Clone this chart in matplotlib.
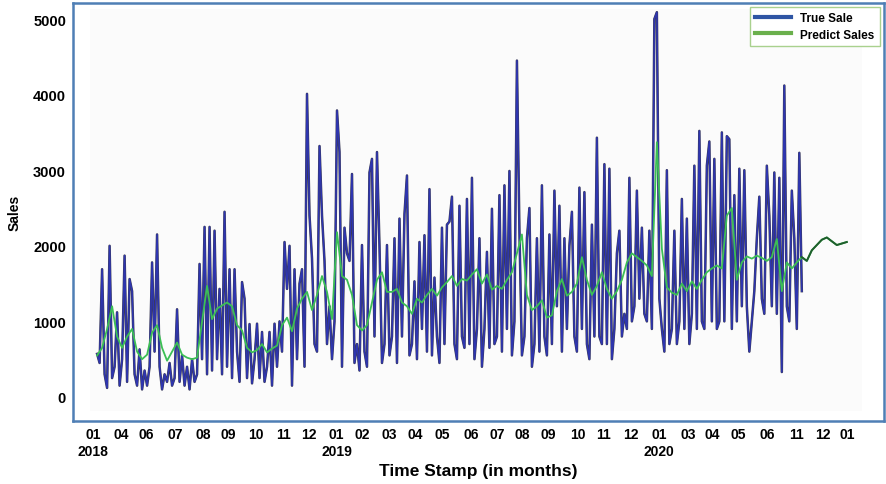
import numpy as np
import matplotlib.pyplot as plt
from matplotlib.patches import Rectangle

# True sales, one value every ~3.6 days
true_sales = [
    570, 450, 1690, 300, 120, 2000, 250, 400, 1120, 150,
    500, 1870, 200, 1560, 1400, 300, 150, 630, 100, 350,
    150, 400, 1780, 600, 2150, 400, 100, 300, 200, 450,
    150, 250, 1160, 200, 550, 150, 400, 100, 500, 200,
    300, 1760, 500, 2250, 300, 2250, 350, 2200, 500, 1430,
    300, 2450, 400, 1690, 250, 1690, 600, 200, 1520, 1300,
    250, 965, 180, 500, 970, 250, 860, 200, 400, 860,
    150, 970, 400, 1000, 600, 2050, 1430, 2000, 150, 1690,
    500, 1500, 1690, 400, 4010, 2400, 1830, 700, 600, 3320,
    2400, 1800, 700, 1200, 500, 1000, 3790, 3240, 400, 2240,
    1900, 1800, 2950, 450, 700, 350, 2010, 600, 400, 2970,
    3150, 800, 3240, 2000, 450, 700, 2010, 550, 800, 2100,
    450, 2360, 800, 2420, 2930, 550, 700, 1530, 500, 2050,
    900, 2140, 600, 2750, 550, 1580, 800, 450, 2240, 700,
    2280, 2320, 2650, 700, 500, 2530, 800, 650, 2620, 700,
    2900, 500, 900, 2100, 400, 900, 1920, 650, 2490, 700,
    800, 2670, 600, 2800, 900, 2990, 550, 1000, 4450, 2200,
    550, 800, 2100, 2500, 400, 700, 2100, 600, 2800, 800,
    550, 2150, 700, 2730, 1200, 2530, 600, 2100, 900, 2000,
    2450, 800, 600, 2770, 900, 2710, 700, 500, 2280, 800,
    3430, 800, 700, 3080, 700, 3020, 500, 900, 1900, 2200,
    800, 1100, 900, 2900, 1000, 1200, 2730, 1300, 2240, 1100,
    1000, 2200, 900, 5000, 5090, 1300, 900, 600, 3000, 700,
    900, 2200, 700, 1000, 2620, 900, 2360, 700, 1100, 3060,
    900, 3520, 1000, 900, 3060, 3380, 1000, 3150, 900, 1000,
    3500, 1000, 3450, 3410, 900, 2670, 1000, 3020, 1200, 3000,
    1200, 600, 1000, 1400, 2100, 2650, 1300, 1100, 3060, 2400,
    1200, 2970, 1100, 2900, 330, 4120, 1200, 1000, 2730, 2100,
    900, 3230, 1400,
]

# Predicted sales, one value every ~7.3 days, runs past the true data
pred_sales = [
    550, 650, 900, 1200, 800, 650, 800, 900, 600, 500,
    560, 850, 950, 650, 480, 600, 720, 560, 520, 500,
    520, 1000, 1470, 1030, 1170, 1210, 1250, 1200, 950, 880,
    650, 590, 620, 700, 590, 640, 680, 950, 1050, 870,
    1170, 1300, 1390, 1150, 1350, 1600, 1390, 1030, 2180, 1600,
    1550, 1350, 950, 880, 950, 1250, 1550, 1650, 1390, 1390,
    1430, 1250, 1200, 1100, 1300, 1250, 1350, 1430, 1340, 1450,
    1520, 1600, 1470, 1560, 1540, 1620, 1690, 1500, 1620, 1420,
    1470, 1430, 1550, 1650, 1900, 2150, 1350, 1150, 1200, 1280,
    1050, 1080, 1400, 1560, 1340, 1390, 1500, 1850, 1550, 1350,
    1470, 1650, 1430, 1300, 1400, 1550, 1780, 1900, 1850, 1800,
    1740, 1600, 3370, 1960, 1450, 1380, 1350, 1500, 1400, 1530,
    1430, 1550, 1650, 1700, 1740, 1700, 2400, 2500, 1550, 1780,
    1860, 1830, 1870, 1840, 1800, 1850, 2090, 1400, 1780, 1700,
    1780, 1850, 1800, 1940, 2010, 2080, 2110, 2060, 2010, 2030,
    2050,
]

# month tick labels as printed under the axis (positions in days)
tick_days = [0, 41, 78, 119, 160, 196, 237, 277, 314, 354, 391, 431, 468, 508,
             549, 587, 623, 662, 704, 742, 781, 822, 864, 900, 937, 979, 1022,
             1060, 1096]
tick_labels = ["01\n2018", "04", "06", "07", "08", "09", "10", "11", "12",
               "01\n2019", "02", "03", "04", "05", "06", "07", "08", "09", "10",
               "11", "12", "01\n2020", "03", "04", "05", "06", "11", "12", "01"]
y_ticks = [0, 1000, 2000, 3000, 4000, 5000]

true_x = 6 + 3.63 * np.arange(len(true_sales))
pred_x = 6 + 7.26 * np.arange(len(pred_sales))

fig = plt.figure(figsize=(8.86, 4.85), dpi=100)
ax = fig.add_axes([0.0824, 0.13, 0.9153, 0.8618])

# faint grey backdrop of the pasted plot area
ax.add_patch(Rectangle((0.021, 0.025), 0.952, 0.96, transform=ax.transAxes,
                       color='#fbfbfb', zorder=0, lw=0))

ax.plot(true_x, true_sales, color='#3b3b55', lw=1.8, zorder=2)
ax.plot(true_x, true_sales, color='#2e35b0', lw=1.1, zorder=3)
ax.plot(pred_x, pred_sales, color='#3cbf55', lw=1.3, zorder=4)
ext = pred_x >= true_x[-1]
ax.plot(pred_x[ext], np.array(pred_sales)[ext], color='#1f5e2c', lw=1.4, zorder=5)

# legend handles
ax.plot([], [], color='#2f55a4', lw=3, label='True Sale')
ax.plot([], [], color='#6ab04c', lw=3, label='Predict Sales')
leg = ax.legend(loc='upper right', fancybox=False, framealpha=1,
                edgecolor='#a9d18e', borderaxespad=0.3, handlelength=3.0,
                borderpad=0.5, labelspacing=0.35,
                prop={'family': 'Liberation Sans', 'weight': 'bold', 'size': 8.5})
leg.get_frame().set_linewidth(1.0)

ax.set_xlim(-29, 1149)
ax.set_ylim(-317, 5212)
ax.set_xticks(tick_days)
ax.set_xticklabels(tick_labels, family='Liberation Sans',
                   weight='bold', fontsize=10, linespacing=1.35)
ax.set_yticks(y_ticks)
ax.set_yticklabels([str(v) for v in y_ticks], family='Liberation Sans',
                   weight='bold', fontsize=10.5)
ax.tick_params(axis='x', length=0, pad=4)
ax.tick_params(axis='y', length=0, pad=5)

ax.set_xlabel('Time Stamp (in months)', family='Liberation Sans',
              weight='bold', fontsize=12.5, labelpad=3)
ax.set_ylabel('Sales', family='Liberation Sans', weight='bold', fontsize=10, labelpad=8)

for s in ax.spines.values():
    s.set_color('#4f7fb5')
    s.set_linewidth(1.8)

fig.savefig('out.png', dpi=100)
